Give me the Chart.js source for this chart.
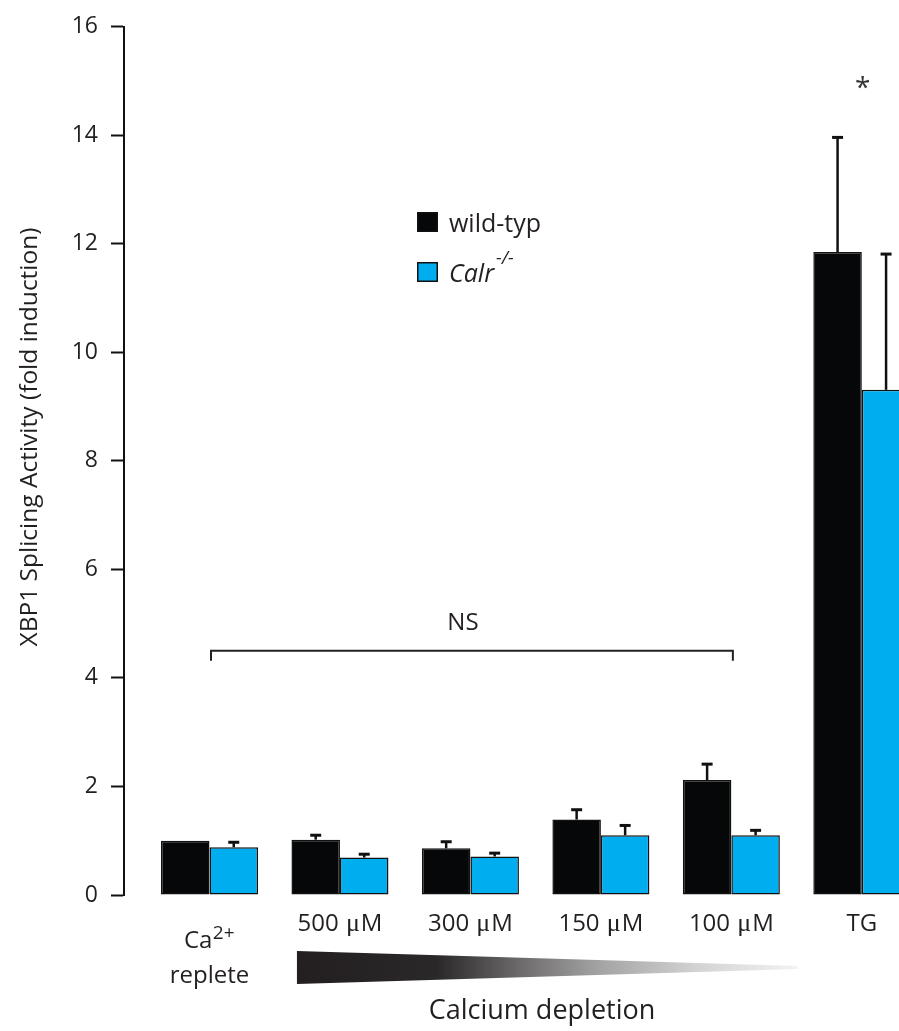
<!DOCTYPE html>
<html>
<head>
<meta charset="utf-8">
<script src="https://cdn.jsdelivr.net/npm/chart.js@4.4.1/dist/chart.umd.min.js"></script>
<style>
  html, body { margin: 0; padding: 0; background: #fff; overflow: hidden; }
  canvas { display: block; }
</style>
</head>
<body>
<canvas id="chart" width="899" height="1031"></canvas>
<script>
// Conditions (x categories) and the two genotypes
const categories = ['Ca2+ replete', '500 μM', '300 μM', '150 μM', '100 μM', 'TG'];
const seriesNames = ['wild-typ', 'Calr'];
const seriesSuperscripts = ['', '-/-'];

// Fold induction of XBP1 splicing, mean and upper error (SD)
const wildType    = [1.00, 1.02, 0.86, 1.39, 2.12, 11.85];
const wildTypeErr = [0.00, 0.10, 0.14, 0.20, 0.31, 2.13];
const calr        = [0.88, 0.69, 0.71, 1.10, 1.10, 9.31];
const calrErr     = [0.11, 0.08, 0.08, 0.20, 0.11, 2.52];

const yTicks = [0, 2, 4, 6, 8, 10, 12, 14, 16];
const yTitle = 'XBP1 Splicing Activity (fold induction)';
const bracketLabel = 'NS';
const bracketLevel = 4.5;          // y value of the NS bracket
const bracketSpan = [1, 5];        // categories covered by the bracket
const starLabel = '*';
const gradientLabel = 'Calcium depletion';

const FONT = '"Open Sans", "Noto Sans", sans-serif';
const SERIF = '"Liberation Serif", "DejaVu Serif", serif';
const INK = '#231f20';
const BLACK = '#060708';
const BLUE = '#00aeef';

const toPoints = arr => arr.map((v, i) => ({ x: i + 1, y: v }));
const errors = [wildTypeErr, calrErr];

// Draw a sequence of text runs centred on cx
function drawRuns(ctx, runs, cx, y) {
  let total = 0;
  runs.forEach(r => { ctx.font = r.font; r.w = ctx.measureText(r.text).width + (r.gap || 0); total += r.w; });
  let x = cx - total / 2;
  runs.forEach(r => {
    ctx.font = r.font;
    ctx.textAlign = 'left';
    ctx.fillText(r.text, x + (r.gap || 0) / 2, y + (r.dy || 0));
    x += r.w;
  });
}

const overlay = {
  id: 'overlay',
  afterDatasetsDraw(chart) {
    const { ctx, scales: { y } } = chart;
    ctx.save();

    // error bars (upper only)
    ctx.strokeStyle = '#111';
    ctx.lineCap = 'butt';
    chart.data.datasets.forEach((ds, di) => {
      const meta = chart.getDatasetMeta(di);
      meta.data.forEach((bar, i) => {
        const e = errors[di][i];
        if (!e) return;
        const top = y.getPixelForValue(ds.data[i].y + e) + 1;
        ctx.lineWidth = 2.5;
        ctx.beginPath();
        ctx.moveTo(bar.x, bar.y);
        ctx.lineTo(bar.x, top);
        ctx.stroke();
        ctx.lineWidth = 3;
        ctx.beginPath();
        ctx.moveTo(bar.x - 5.5, top);
        ctx.lineTo(bar.x + 5.5, top);
        ctx.stroke();
      });
    });
    ctx.restore();
  },
  afterDraw(chart) {
    const { ctx, scales: { x, y } } = chart;
    ctx.save();
    ctx.fillStyle = INK;
    ctx.textBaseline = 'alphabetic';

    // x category labels
    categories.forEach((label, i) => {
      const cx = x.getPixelForValue(i + 1);
      if (label.startsWith('Ca2+')) {
        drawRuns(ctx, [
          { text: 'Ca', font: `24px ${FONT}` },
          { text: '2+', font: `19px ${FONT}`, dy: -9, gap: 1 }
        ], cx, 948);
        drawRuns(ctx, [{ text: label.split(' ')[1], font: `24px ${FONT}` }], cx, 983);
      } else if (label.includes('μ')) {
        const [num, unit] = label.split('μ');
        drawRuns(ctx, [
          { text: num, font: `24px ${FONT}` },
          { text: 'μ', font: `26px ${SERIF}`, gap: 2 },
          { text: unit, font: `24px ${FONT}` }
        ], cx, 931);
      } else {
        drawRuns(ctx, [{ text: label, font: `24px ${FONT}` }], cx, 931);
      }
    });

    // depletion wedge under the concentration labels
    const wl = x.getPixelForValue(2) - 43;
    const wr = x.getPixelForValue(5) + 66;
    const grad = ctx.createLinearGradient(wl, 0, wr, 0);
    grad.addColorStop(0, '#231f20');
    grad.addColorStop(0.28, '#2b2829');
    grad.addColorStop(0.45, '#6e6c6d');
    grad.addColorStop(0.6, '#a3a2a3');
    grad.addColorStop(0.8, '#d3d3d3');
    grad.addColorStop(1, '#f2f2f2');
    ctx.fillStyle = grad;
    ctx.beginPath();
    ctx.moveTo(wl, 951);
    ctx.lineTo(wr, 966);
    ctx.lineTo(wr, 969);
    ctx.lineTo(wl, 984);
    ctx.closePath();
    ctx.fill();

    ctx.fillStyle = INK;
    ctx.font = `27px ${FONT}`;
    ctx.textAlign = 'center';
    ctx.fillText(gradientLabel, 542, 1019);

    // NS bracket
    const bx0 = x.getPixelForValue(bracketSpan[0]) + 1.5;
    const bx1 = x.getPixelForValue(bracketSpan[1]) + 1.5;
    const by = y.getPixelForValue(bracketLevel);
    ctx.strokeStyle = '#222';
    ctx.lineWidth = 2;
    ctx.beginPath();
    ctx.moveTo(bx0, by + 10);
    ctx.lineTo(bx0, by);
    ctx.lineTo(bx1, by);
    ctx.lineTo(bx1, by + 10);
    ctx.stroke();
    ctx.font = `24px ${FONT}`;
    ctx.textAlign = 'center';
    ctx.fillText(bracketLabel, (bx0 + bx1) / 2 - 9, by - 21);

    // significance star over TG
    ctx.fillStyle = '#333';
    ctx.font = `28px ${FONT}`;
    ctx.fillText(starLabel, x.getPixelForValue(6) + 1, 97);

    // legend
    const colors = [BLACK, BLUE];
    const lx = 417, ly = [212, 262];
    seriesNames.forEach((name, i) => {
      ctx.fillStyle = colors[i];
      ctx.fillRect(lx, ly[i], 21, 20);
      ctx.strokeStyle = '#111';
      ctx.lineWidth = 1.5;
      ctx.strokeRect(lx + 0.75, ly[i] + 0.75, 19.5, 18.5);
      ctx.fillStyle = INK;
      ctx.textAlign = 'left';
      const italic = seriesSuperscripts[i] ? 'italic ' : '';
      ctx.font = `${italic}25px ${FONT}`;
      ctx.fillText(name, 449, ly[i] + 20);
      if (seriesSuperscripts[i]) {
        const w = ctx.measureText(name).width;
        ctx.font = `italic 18px ${FONT}`;
        ctx.fillText(seriesSuperscripts[i], 449 + w + 2, ly[i] + 2);
      }
    });

    // y axis title
    ctx.save();
    ctx.translate(30, 437);
    ctx.rotate(-Math.PI / 2);
    ctx.fillStyle = INK;
    ctx.font = `24.5px ${FONT}`;
    ctx.textAlign = 'center';
    ctx.textBaseline = 'middle';
    ctx.fillText(yTitle, 0, 0);
    ctx.restore();

    ctx.restore();
  }
};

new Chart(document.getElementById('chart'), {
  type: 'bar',
  data: {
    datasets: [
      { label: seriesNames[0], data: toPoints(wildType), backgroundColor: BLACK },
      { label: seriesNames[1], data: toPoints(calr), backgroundColor: BLUE }
    ]
  },
  options: {
    responsive: false,
    animation: false,
    devicePixelRatio: 1,
    layout: { padding: { top: 20, right: 0, bottom: 0, left: 0 } },
    datasets: {
      bar: {
        categoryPercentage: 0.7435,
        barPercentage: 1.0,
        borderWidth: 1.5,
        borderColor: '#111',
        borderSkipped: false
      }
    },
    plugins: {
      legend: { display: false },
      tooltip: { enabled: false }
    },
    scales: {
      x: {
        type: 'linear',
        offset: false,
        min: 0.3446,
        max: 6.285,
        grid: { display: false },
        border: { display: false },
        ticks: { display: false },
        afterBuildTicks: s => { s.ticks = categories.map((_, i) => ({ value: i + 1 })); },
        afterFit: s => { s.height = 136; }
      },
      y: {
        min: 0,
        max: 16,
        afterBuildTicks: s => { s.ticks = yTicks.map(v => ({ value: v })); },
        afterFit: s => { s.width = 124; },
        border: { display: true, color: '#111', width: 2 },
        grid: {
          display: true,
          drawOnChartArea: false,
          drawTicks: true,
          tickLength: 13,
          tickWidth: 2,
          tickColor: '#111'
        },
        ticks: {
          color: INK,
          padding: 13,
          font: { family: FONT, size: 23 }
        }
      }
    }
  },
  plugins: [overlay]
});
</script>
</body>
</html>
